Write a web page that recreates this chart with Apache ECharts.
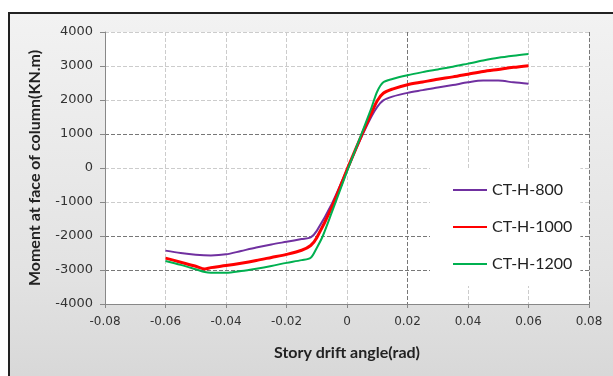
<!DOCTYPE html>
<html>
<head>
<meta charset="utf-8">
<script src="https://cdn.jsdelivr.net/npm/echarts@6/dist/echarts.min.js"></script>
<style>
  body { margin: 0; background: #fff; }
  #frame {
    position: absolute; left: 8px; top: 12px; width: 620px; height: 380px;
    border: 2px solid #222;
    background: linear-gradient(#f2f2f2, #e2e2e2 70%, #d6d6d6);
  }
  #chart { position: absolute; left: 0; top: 0; width: 613px; height: 376px; }
</style>
</head>
<body>
<div id="frame"></div>
<div id="chart"></div>
<script>
// Story drift angle (rad) vs moment at face of column (kN.m)
const seriesNames = ['CT-H-800', 'CT-H-1000', 'CT-H-1200'];
const seriesColors = ['#7030a0', '#ff0000', '#00b050'];

const ct800 = [
  [-0.06, -2430], [-0.055, -2500], [-0.05, -2550], [-0.045, -2570], [-0.04, -2540],
  [-0.035, -2440], [-0.03, -2340], [-0.025, -2250], [-0.02, -2170], [-0.015, -2090],
  [-0.012, -2040], [-0.01, -1850], [-0.005, -1050], [0, -50], [0.005, 950],
  [0.008, 1500], [0.01, 1800], [0.012, 1990], [0.015, 2100], [0.02, 2210],
  [0.025, 2290], [0.03, 2370], [0.035, 2440], [0.04, 2520], [0.045, 2570],
  [0.05, 2570], [0.055, 2520], [0.06, 2480]
];
const ct1000 = [
  [-0.06, -2650], [-0.055, -2770], [-0.05, -2890], [-0.047, -2970], [-0.045, -2930],
  [-0.04, -2870], [-0.035, -2800], [-0.03, -2720], [-0.025, -2630], [-0.02, -2540],
  [-0.015, -2420], [-0.012, -2280], [-0.01, -2050], [-0.005, -1150], [0, -50],
  [0.005, 1000], [0.008, 1600], [0.01, 1980], [0.012, 2200], [0.015, 2320],
  [0.02, 2450], [0.025, 2530], [0.03, 2610], [0.035, 2680], [0.04, 2760],
  [0.045, 2840], [0.05, 2900], [0.055, 2960], [0.06, 3010]
];
const ct1200 = [
  [-0.06, -2735], [-0.055, -2850], [-0.05, -2980], [-0.047, -3060], [-0.045, -3080],
  [-0.04, -3080], [-0.035, -3030], [-0.03, -2960], [-0.025, -2880], [-0.02, -2790],
  [-0.015, -2710], [-0.012, -2640], [-0.01, -2350], [-0.008, -2000], [-0.005, -1300],
  [0, -100], [0.005, 1050], [0.008, 1750], [0.01, 2250], [0.012, 2520],
  [0.015, 2620], [0.02, 2730], [0.025, 2820], [0.03, 2900], [0.035, 2980],
  [0.04, 3070], [0.045, 3160], [0.05, 3240], [0.055, 3300], [0.06, 3350]
];
const seriesData = [ct800, ct1000, ct1200];
const lineWidths = [2, 3, 2];

// gridline shades, from min to max
const xGridColors = ['#ccc', '#ccc', '#ccc', '#ccc', '#ccc', '#777', '#ccc', '#ccc', '#777'];
const yGridColors = ['#ccc', '#777', '#777', '#ccc', '#ccc', '#777', '#ccc', '#ccc', '#ccc'];

const font = 'Lato, "Open Sans", sans-serif';
const tickFont = '"DejaVu Sans", sans-serif';

const chart = echarts.init(document.getElementById('chart'));
chart.setOption({
  animation: false,
  textStyle: { fontFamily: font },
  grid: {
    left: 105, right: 24, top: 32, bottom: 72,
    show: true, backgroundColor: '#fff', borderWidth: 0
  },
  legend: {
    orient: 'vertical',
    left: 430, top: 168,
    padding: [14, 8, 14, 22],
    backgroundColor: '#fff',
    itemWidth: 34, itemHeight: 14, itemGap: 21,
    itemStyle: { opacity: 0 },
    textStyle: { fontFamily: font, fontSize: 16, color: '#222' },
    data: seriesNames
  },
  xAxis: {
    type: 'value',
    min: -0.08, max: 0.08, interval: 0.02,
    name: 'Story drift angle(rad)',
    nameLocation: 'middle', nameGap: 41,
    nameTextStyle: { fontFamily: font, fontSize: 16, fontWeight: 'bold', color: '#222' },
    axisLine: { show: true, onZero: false, lineStyle: { color: '#888' } },
    axisTick: { show: true, inside: false, length: 4, lineStyle: { color: '#888' } },
    axisLabel: { fontFamily: tickFont, fontSize: 12, color: '#333', margin: 12,
      formatter: v => (Math.abs(v) < 1e-9 ? '0' : v.toFixed(2)) },
    splitLine: { show: true, lineStyle: { type: 'dashed', color: xGridColors, width: 1 } }
  },
  yAxis: {
    type: 'value',
    min: -4000, max: 4000, interval: 1000,
    name: 'Moment at face of column(KN.m)',
    nameLocation: 'middle', nameGap: 62,
    nameTextStyle: { fontFamily: font, fontSize: 16, fontWeight: 'bold', color: '#222' },
    axisLine: { show: true, onZero: false, lineStyle: { color: '#888' } },
    axisTick: { show: true, inside: false, length: 5, lineStyle: { color: '#888' } },
    axisLabel: { fontFamily: tickFont, fontSize: 13, color: '#333', margin: 12,
      formatter: v => String(Math.round(v)) },
    splitLine: { show: true, lineStyle: { type: 'dashed', color: yGridColors, width: 1 } }
  },
  series: seriesNames.map((name, i) => ({
    name: name,
    type: 'line',
    data: seriesData[i],
    symbol: 'none',
    smooth: 0.3,
    color: seriesColors[i],
    lineStyle: { width: lineWidths[i], color: seriesColors[i] }
  }))
});
</script>
</body>
</html>
